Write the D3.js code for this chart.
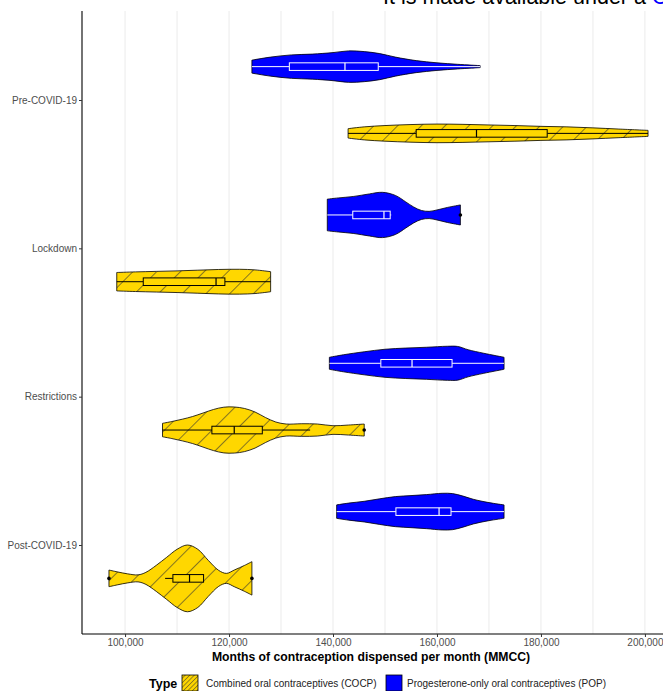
<!DOCTYPE html>
<html>
<head>
<meta charset="utf-8">
<script src="https://cdn.jsdelivr.net/npm/d3@7"></script>
<style>
  body { margin: 0; background: #fff; overflow: hidden; }
  text { font-family: "Liberation Sans", Arial, sans-serif; }
</style>
</head>
<body>
<script>
// categories
var periods = ["Pre-COVID-19", "Lockdown", "Restrictions", "Post-COVID-19"];
var typeLabels = ["Combined oral contraceptives (COCP)", "Progesterone-only oral contraceptives (POP)"];
var xTicks = [100000, 120000, 140000, 160000, 180000, 200000];
var xGrid = [100000, 110000, 120000, 130000, 140000, 150000, 160000, 170000, 180000, 190000, 200000];

// violin outlines: [MMCC, relative density]
var popPre = [[124400,6.5],[128000,9.5],[132000,11.7],[136000,12.5],[140000,14],[143000,15.7],[146000,15],[149000,13],[152000,9.5],[156000,6],[160000,3.8],[164000,2.3],[168300,1]];
var popLock = [[138900,15.8],[141000,17],[144000,18.5],[147000,21],[149500,22.6],[152000,19.5],[154000,13],[155500,8],[157000,4.5],[158500,3.6],[160000,5],[162000,7.5],[164500,10]];
var popRestr = [[139300,6],[142000,8.5],[146000,11.5],[150000,14],[154000,15.2],[158000,16],[162000,17],[164000,16.8],[166000,13.5],[169000,10],[172900,6]];
var popPost = [[140700,6.7],[143000,8.5],[146000,10.3],[149000,12.8],[152000,15],[155000,16],[158000,17],[161000,18.3],[163000,18],[165000,15.5],[167000,12.3],[170000,9],[172900,6.7]];

var cocpPre = [[142900,4.7],[146000,6.5],[150000,7.8],[155000,8.8],[160000,9.3],[165000,9],[170000,8.4],[175000,7.8],[180000,7],[185000,6.5],[190000,5.5],[195000,4.3],[200600,3]];
var cocpLock = [[98400,9.2],[102000,9.8],[106000,10.3],[110000,10.8],[114000,11.5],[118000,12.2],[122000,12.4],[125000,11.8],[128000,10]];
var cocpRestr = [[107200,6.7],[109000,8.5],[111000,10.8],[113000,13.5],[115000,17],[117000,20.5],[119000,22.8],[121000,23],[123000,21.5],[125000,18],[127000,12.5],[129000,8],[131000,6],[134000,6.3],[137000,6],[140000,4.3],[143000,5],[146000,6]];
var cocpPost = [[96900,8.3],[98500,6.5],[100500,4.5],[102500,3.5],[104000,6],[106000,13],[108000,21],[110000,29],[112000,33.3],[114000,29],[116000,18],[118000,8],[119500,5],[121000,8.3],[123000,13],[124400,16.7]];

// box stats: [lower whisker, q1, median, q3, upper whisker]
var popBoxes = [[124400,131600,142300,148700,168300],[138900,143800,149800,151000,151200],[139300,149200,155200,162900,172900],[140700,152100,160400,162700,172900]];
var cocpBoxes = [[142900,156000,167600,181200,200600],[98400,103500,117500,119200,128000],[107200,116700,121000,126400,135600],[107700,109200,112400,115100,115100]];
var popOutliers = [[], [164500], [], []];
var cocpOutliers = [[], [], [146000], [96900, 124400]];

var W = 663, H = 691;
var panelTop = 11, panelBottom = 634, panelLeft = 82;
var blue = "#0000FF", gold = "#FFD700";

var svg = d3.select("body").append("svg")
    .attr("width", W).attr("height", H);

var defs = svg.append("defs");
function hatch(id, gap, sw, op) {
  var p = defs.append("pattern").attr("id", id)
      .attr("patternUnits", "userSpaceOnUse")
      .attr("width", gap).attr("height", gap)
      .attr("patternTransform", "rotate(45)");
  p.append("rect").attr("width", gap).attr("height", gap).attr("fill", gold);
  p.append("line").attr("x1", 0).attr("y1", 0).attr("x2", 0).attr("y2", gap)
      .attr("stroke", "#333").attr("stroke-opacity", op).attr("stroke-width", sw);
}
hatch("hatch", 16.8, 2, 0.6);
hatch("hatchKey", 3.2, 1.7, 0.6);

// x scale with ggplot-like 5% expansion
var all = [].concat(popPre, popLock, popRestr, popPost, cocpPre, cocpLock, cocpRestr, cocpPost);
var vmin = d3.min(all, d => d[0]), vmax = d3.max(all, d => d[0]);
var pad = (vmax - vmin) * 0.05;
var x = d3.scaleLinear().domain([vmin - pad, vmax + pad]).range([panelLeft, 675]);
var y = d3.scalePoint().domain(periods).range([panelTop, panelBottom]).padding(0.6);
var dodge = y.step() * 0.225;
var wScale = d3.scaleLinear().domain([0, d3.max(all, d => d[1])]).range([0, y.step() * 0.225]);

// grid
svg.append("g").selectAll("line").data(xGrid).join("line")
    .attr("x1", d => x(d)).attr("x2", d => x(d))
    .attr("y1", panelTop).attr("y2", panelBottom)
    .attr("stroke", "#ebebeb").attr("stroke-width", 1);

function drawGroup(violins, boxes, outliers, off, fill, boxStroke, boxFill) {
  var g = svg.append("g");
  violins.forEach(function(v, i) {
    var cy = y(periods[i]) + off;
    var area = d3.area()
        .x(d => x(d[0]))
        .y0(d => cy - wScale(d[1]))
        .y1(d => cy + wScale(d[1]))
        .curve(d3.curveCatmullRom.alpha(0.5));
    g.append("path").attr("d", area(v))
        .attr("fill", fill).attr("stroke", "#000").attr("stroke-width", 0.8);

    var b = boxes[i], bh = 3.8;
    g.append("line").attr("x1", x(b[0])).attr("x2", x(b[1])).attr("y1", cy).attr("y2", cy)
        .attr("stroke", boxStroke).attr("stroke-width", 1);
    g.append("line").attr("x1", x(b[3])).attr("x2", x(b[4])).attr("y1", cy).attr("y2", cy)
        .attr("stroke", boxStroke).attr("stroke-width", 1);
    g.append("rect").attr("x", x(b[1])).attr("y", cy - bh)
        .attr("width", x(b[3]) - x(b[1])).attr("height", bh * 2)
        .attr("fill", boxFill).attr("stroke", boxStroke).attr("stroke-width", 1);
    g.append("line").attr("x1", x(b[2])).attr("x2", x(b[2])).attr("y1", cy - bh).attr("y2", cy + bh)
        .attr("stroke", boxStroke).attr("stroke-width", 1.2);
    outliers[i].forEach(function(o) {
      g.append("circle").attr("cx", x(o)).attr("cy", cy).attr("r", 1.8).attr("fill", "#000");
    });
  });
}

drawGroup([popPre, popLock, popRestr, popPost], popBoxes, popOutliers, -dodge, blue, "#fff", blue);
drawGroup([cocpPre, cocpLock, cocpRestr, cocpPost], cocpBoxes, cocpOutliers, dodge, "url(#hatch)", "#000", gold);

// axes
var xAxis = svg.append("g").attr("transform", "translate(0," + panelBottom + ")")
    .call(d3.axisBottom(x).tickValues(xTicks).tickFormat(d3.format(",")).tickSize(3).tickPadding(2));
xAxis.select(".domain").attr("d", "M" + panelLeft + ",0H" + W).attr("stroke", "#000").attr("stroke-width", 1.1);
xAxis.selectAll(".tick line").attr("stroke", "#333");
xAxis.selectAll(".tick text").attr("fill", "#4d4d4d").style("font-size", "10px");

var yAxis = svg.append("g").attr("transform", "translate(" + panelLeft + ",0)")
    .call(d3.axisLeft(y).tickSize(3).tickPadding(2));
yAxis.select(".domain").attr("d", "M0," + panelTop + "V" + panelBottom).attr("stroke", "#000").attr("stroke-width", 1.1);
yAxis.selectAll(".tick line").attr("stroke", "#333");
yAxis.selectAll(".tick text").attr("fill", "#4d4d4d").style("font-size", "10px");

svg.append("text").attr("x", 371).attr("y", 661).attr("text-anchor", "middle")
    .style("font-size", "12.2px").style("font-weight", "bold")
    .text("Months of contraception dispensed per month (MMCC)");

// legend
var lg = svg.append("g");
lg.append("text").attr("x", 149).attr("y", 688).style("font-size", "12.5px").style("font-weight", "bold").text("Type");
lg.append("rect").attr("x", 182).attr("y", 675).attr("width", 16).attr("height", 16)
    .attr("fill", "url(#hatchKey)").attr("stroke", "#000").attr("stroke-width", 0.8);
lg.append("text").attr("x", 206).attr("y", 687).style("font-size", "10px").attr("fill", "#222").text(typeLabels[0]);
lg.append("rect").attr("x", 386).attr("y", 675).attr("width", 16).attr("height", 16)
    .attr("fill", blue).attr("stroke", "#000").attr("stroke-width", 0.8);
lg.append("text").attr("x", 407).attr("y", 687).style("font-size", "10px").attr("fill", "#222").text(typeLabels[1]);

// cropped header from the page
var hd = svg.append("text").attr("x", 383).attr("y", 4).style("font-size", "21.5px").attr("fill", "#000");
hd.append("tspan").text("It is made available under a ");
hd.append("tspan").attr("fill", blue).text("CC-BY 4.0 International license");
</script>
</body>
</html>
